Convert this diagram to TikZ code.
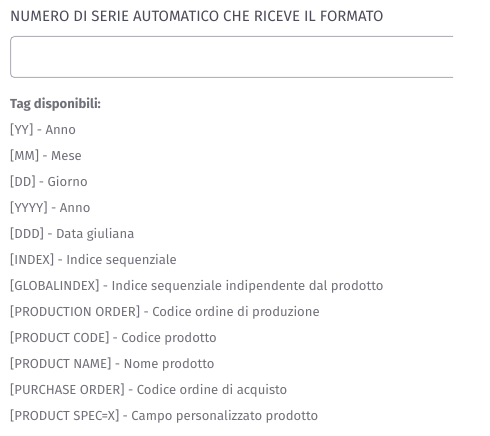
\documentclass[tikz,border=0pt]{standalone}
\usepackage{fontspec}
\setmainfont{Fira Sans}
\usepackage{xcolor}
\usepackage{tikz}
\usetikzlibrary{positioning}
\definecolor{titlegray}{RGB}{76,76,90}
\definecolor{taggray}{RGB}{112,112,122}
\definecolor{boxgray}{RGB}{178,178,186}
\tikzstyle{fieldlabel}=[anchor=base west, inner sep=0pt, text=titlegray, font=\fontsize{15}{17}\selectfont]
\tikzstyle{taglabel}=[anchor=base west, inner sep=0pt, text=taggray, font=\fontsize{13.1}{15}\selectfont]

\begin{document}
\begin{tikzpicture}[x=1pt,y=1pt]
  \useasboundingbox (0,0) rectangle (490,436);
  % titolo del campo
  \node[fieldlabel] (title) at (10,436-21.5) {NUMERO DI SERIE AUTOMATICO CHE RICEVE IL FORMATO};
  % casella di input (tagliata a destra)
  \draw[boxgray, line width=1pt, rounded corners=4pt]
    (453,436-36.5) -- (10.5,436-36.5) -- (10.5,436-77.5) -- (453,436-77.5);
  % elenco dei tag
  \node[taglabel, font=\fontsize{13.1}{15}\selectfont\bfseries] (tags) at (10,436-108.5) {Tag disponibili:};
  \foreach \t [count=\i] in {%
      {[YY] - Anno},
      {[MM] - Mese},
      {[DD] - Giorno},
      {[YYYY] - Anno},
      {[DDD] - Data giuliana},
      {[INDEX] - Indice sequenziale},
      {[GLOBALINDEX] - Indice sequenziale indipendente dal prodotto},
      {[PRODUCTION ORDER] - Codice ordine di produzione},
      {[PRODUCT CODE] - Codice prodotto},
      {[PRODUCT NAME] - Nome prodotto},
      {[PURCHASE ORDER] - Codice ordine di acquisto},
      {[PRODUCT SPEC=X] - Campo personalizzato prodotto}}
    \node[taglabel] (tag\i) at (10,436-134.5-26*\i+26) {\t};
\end{tikzpicture}
\end{document}
